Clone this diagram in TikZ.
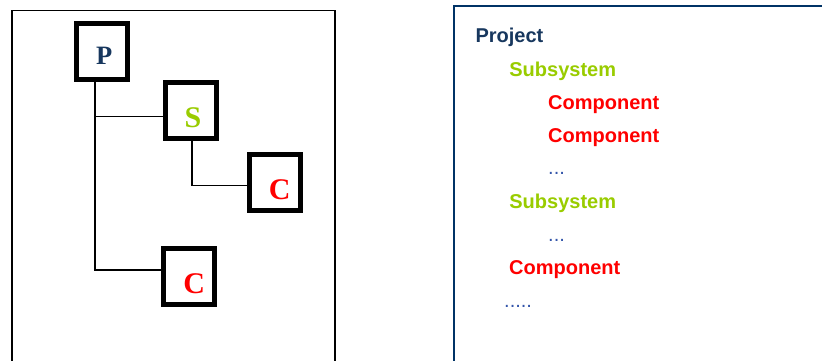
\documentclass[tikz,border=0pt]{standalone}
\usepackage{fontspec}
\setmainfont{Liberation Serif}
\newfontfamily\arialf{Liberation Sans}
\definecolor{pblue}{RGB}{23,55,94}
\definecolor{sgreen}{RGB}{153,204,0}
\definecolor{cred}{RGB}{255,0,0}
\definecolor{dotblue}{RGB}{51,85,170}
\definecolor{frameblue}{RGB}{0,51,102}
\begin{document}
\begin{tikzpicture}[x=1pt,y=-1pt,
  box/.style={draw=black,line width=5pt,minimum width=51pt,minimum height=56pt,inner sep=0pt},
  letter/.style={font=\bfseries,inner sep=0pt,anchor=center},
  conn/.style={draw=black,line width=1.3pt},
  item/.style={font=\arialf\bfseries\fontsize{20}{22}\selectfont,inner sep=0pt,anchor=base west},
  dots/.style={font=\arialf\fontsize{20}{22}\selectfont,inner sep=0pt,anchor=base west,text=dotblue}]
\useasboundingbox (0,0) rectangle (822,360);
% frames
\draw[line width=1.3pt] (12,362) -- (12,10.7) -- (335,10.7) -- (335,362);
\draw[line width=2pt,frameblue] (454,362) -- (454,5.7) -- (824,5.7);
% boxes
\node[box] (p) at (101.7,51.2) {};
\node[box] (s) at (191,110.2) {};
\node[box] (c1) at (274.7,182.2) {};
\node[box] (c2) at (189,276) {};
% letters
\node[letter,text=pblue,font=\bfseries\fontsize{26.5}{28}\selectfont] (pl) at (104.3,56) {P};
\node[letter,text=sgreen,font=\bfseries\fontsize{30}{32}\selectfont] (sl) at (193,118) {S};
\node[letter,text=cred,font=\bfseries\fontsize{30}{32}\selectfont] (c1l) at (279.8,189.7) {C};
\node[letter,text=cred,font=\bfseries\fontsize{30}{32}\selectfont] (c2l) at (194.3,283.7) {C};
% connectors
\draw[conn] ([xshift=-6.7pt]p.south) |- ([yshift=-6.5pt]s.west);
\draw[conn] ([xshift=-6.7pt]p.south) |- ([yshift=6pt]c2.west);
\draw[conn] ([xshift=1pt]s.south) |- ([yshift=-3pt]c1.west);
% outline text
\node[item,text=pblue] (t1) at (475.3,42) {Project};
\node[item,text=sgreen] (t2) at (509.2,76) {Subsystem};
\node[item,text=cred] (t3) at (548,109) {Component};
\node[item,text=cred] (t4) at (548,142) {Component};
\node[dots] (t5) at (548,174.5) {...};
\node[item,text=sgreen] (t6) at (509.2,208) {Subsystem};
\node[dots] (t7) at (548,241) {...};
\node[item,text=cred] (t8) at (509,274) {Component};
\node[dots] (t9) at (504,307) {.....};
\end{tikzpicture}
\end{document}
